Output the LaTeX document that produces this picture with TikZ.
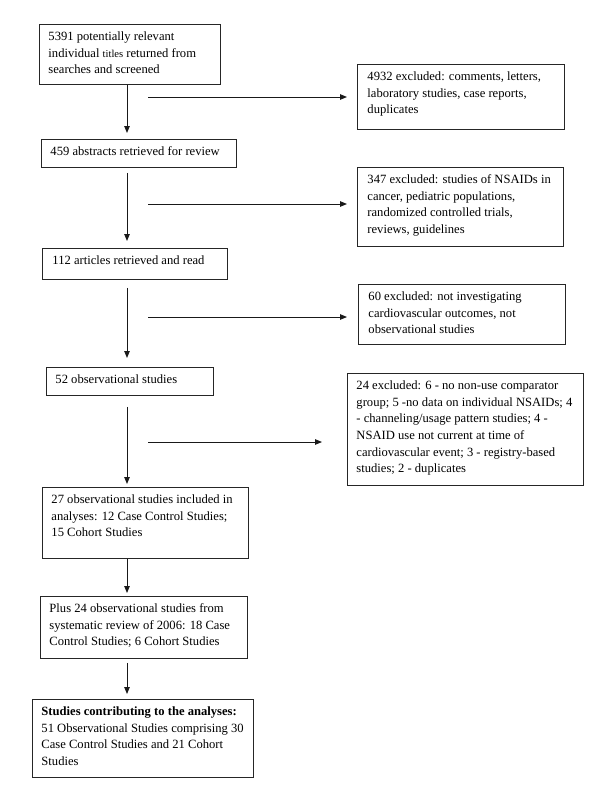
\documentclass[tikz,border=0pt]{standalone}
\usepackage{fontspec}
\setmainfont{Liberation Serif}
\usetikzlibrary{arrows.meta}
\newcommand{\bxtext}[3]{\parbox[c][#2pt][t]{#1pt}{\rule{0pt}{16pt}\begin{tabular}[t]{@{}l@{}}#3\end{tabular}}}
\begin{document}
\begin{tikzpicture}[x=1pt,y=-1pt,
  font=\fontsize{12.6}{16.7}\selectfont,
  box/.style={draw=black!85, line width=0.9pt, anchor=north west, inner xsep=9pt, inner ysep=0pt},
  arr/.style={draw=black!90, line width=0.9pt, -{Triangle[length=7pt,width=5.5pt]}}]
\useasboundingbox (0,0) rectangle (605,800);
% main column
\node[box] (b1) at (39,24) {\bxtext{163}{60}{5391 potentially relevant\\ individual {\fontsize{10.6}{16.7}\selectfont titles} returned from\\ searches and screened}};
\node[box] (b2) at (41,139) {\bxtext{177}{28}{459 abstracts retrieved for review}};
\node[box, inner xsep=10pt] (b3) at (42,248) {\bxtext{165}{31}{112 articles retrieved and read}};
\node[box] (b4) at (46,367) {\bxtext{149}{28}{52 observational studies}};
\node[box] (b5) at (42,487) {\bxtext{188}{71}{27 observational studies included in\\ analyses: 12 Case Control Studies;\\ 15 Cohort Studies}};
\node[box] (b6) at (40,596) {\bxtext{189}{62}{Plus 24 observational studies from\\ systematic review of 2006: 18 Case\\ Control Studies; 6 Cohort Studies}};
\node[box] (b7) at (32,699) {\bxtext{203}{78}{\textbf{Studies contributing to the analyses:}\\ 51 Observational Studies comprising 30\\ Case Control Studies and 21 Cohort\\ Studies}};
% exclusion boxes
\node[box, inner xsep=10pt] (e1) at (357,64) {\bxtext{187}{65}{4932 excluded: comments, letters,\\ laboratory studies, case reports,\\ duplicates}};
\node[box, inner xsep=10pt] (e2) at (357,167) {\bxtext{186}{79}{347 excluded: studies of NSAIDs in\\ cancer, pediatric populations,\\ randomized controlled trials,\\ reviews, guidelines}};
\node[box, inner xsep=10pt] (e3) at (358,284) {\bxtext{187}{60}{60 excluded: not investigating\\ cardiovascular outcomes, not\\ observational studies}};
\node[box] (e4) at (347,373) {\bxtext{218}{112}{24 excluded: 6 - no non-use comparator\\ group; 5 -no data on individual NSAIDs; 4\\ - channeling/usage pattern studies; 4 -\\ NSAID use not current at time of\\ cardiovascular event; 3 - registry-based\\ studies; 2 - duplicates}};
% spine and branch starts
\coordinate (sp) at (127,0);
\coordinate (s1) at (148,97);
\coordinate (s2) at (148,204);
\coordinate (s3) at (148,317);
\coordinate (s4) at (148,442);
% vertical arrows
\draw[arr, shorten >=6pt] (b1.south -| sp) -- (b2.north -| sp);
\draw[arr, shorten <=5pt, shorten >=7pt] (b2.south -| sp) -- (b3.north -| sp);
\draw[arr, shorten <=8pt, shorten >=9pt] (b3.south -| sp) -- (b4.north -| sp);
\draw[arr, shorten <=11pt, shorten >=3pt] (b4.south -| sp) -- (b5.north -| sp);
\draw[arr, shorten >=3pt] (b5.south -| sp) -- (b6.north -| sp);
\draw[arr, shorten <=4pt, shorten >=5pt] (b6.south -| sp) -- (b7.north -| sp);
% horizontal arrows
\draw[arr, shorten >=10pt] (s1) -- (e1.west |- s1);
\draw[arr, shorten >=10pt] (s2) -- (e2.west |- s2);
\draw[arr, shorten >=11pt] (s3) -- (e3.west |- s3);
\draw[arr, shorten >=25pt] (s4) -- (e4.west |- s4);
\end{tikzpicture}
\end{document}
